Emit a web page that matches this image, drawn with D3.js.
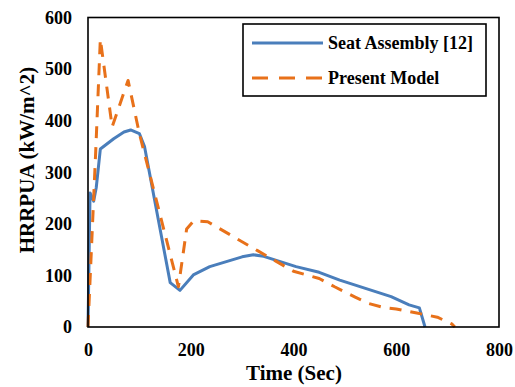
<!DOCTYPE html>
<html><head><meta charset="utf-8">
<script src="https://cdn.jsdelivr.net/npm/d3@7"></script>
<style>body{margin:0;background:#fff}svg{display:block}text{font-family:"Liberation Serif","Times New Roman",serif;font-weight:bold;fill:#000}</style>
</head><body>
<script>
const seriesNames = ["Seat Assembly [12]", "Present Model"];
const seatTime = [0, 4, 11, 16, 24, 50, 70, 83, 100, 110, 160, 179, 205, 237, 300, 322, 342, 405, 450, 490, 540, 590, 625, 645, 656];
const seatHRR  = [0, 260, 244, 270, 345, 365, 378, 382, 375, 350, 86, 71, 101, 117, 136, 140, 137, 117, 106, 91, 75, 59, 43, 37, 0];
const modelTime = [0, 15, 24, 47, 78, 100, 176, 192, 206, 233, 330, 400, 450, 480, 520, 545, 575, 600, 640, 680, 708, 714];
const modelHRR  = [0, 340, 558, 388, 478, 375, 78, 190, 206, 204, 148, 108, 94, 78, 58, 46, 38, 35, 27, 19, 6, 0];
const xTicks = [0, 200, 400, 600, 800];
const yTicks = [0, 100, 200, 300, 400, 500, 600];
const xTitle = "Time (Sec)";
const yTitle = "HRRPUA (kW/m^2)";

const W = 515, H = 387;
const m = {left: 88, right: 499, top: 17.5, bottom: 327};
const svg = d3.select("body").append("svg").attr("width", W).attr("height", H);
const x = d3.scaleLinear().domain([0, 800]).range([m.left, m.right]);
const y = d3.scaleLinear().domain([0, 600]).range([m.bottom, m.top]);

// axes (labels only)
const xAxis = d3.axisBottom(x).tickValues(xTicks).tickSize(0).tickPadding(16);
svg.append("g").attr("transform", `translate(0,${m.bottom})`).call(xAxis)
  .call(g => { g.select(".domain").remove(); g.selectAll("text").attr("font-size", 18).attr("font-family", "Liberation Serif").attr("font-weight", "bold").attr("fill", "#000"); });
const yAxis = d3.axisLeft(y).tickValues(yTicks).tickSize(0).tickPadding(16);
svg.append("g").attr("transform", `translate(${m.left},0)`).call(yAxis)
  .call(g => { g.select(".domain").remove(); g.selectAll("text").attr("font-size", 18).attr("font-family", "Liberation Serif").attr("font-weight", "bold").attr("fill", "#000"); });

const line = d3.line().x(d => x(d[0])).y(d => y(d[1]));
const clip = svg.append("defs").append("clipPath").attr("id", "c").append("rect")
  .attr("x", m.left).attr("y", m.top).attr("width", m.right - m.left).attr("height", m.bottom - m.top);

const seat = seatTime.map((t, i) => [t, seatHRR[i]]);
const model = modelTime.map((t, i) => [t, modelHRR[i]]);
const blue = "#4A7EBB", orange = "#E8711A";
svg.append("path").datum(seat).attr("d", line).attr("fill", "none").attr("stroke", blue).attr("stroke-width", 3).attr("stroke-linejoin", "round");
svg.append("path").datum(model).attr("d", line).attr("fill", "none").attr("stroke", orange).attr("stroke-width", 3).attr("stroke-dasharray", "12,9").attr("stroke-linejoin", "round");

// frame
svg.append("rect").attr("x", m.left).attr("y", m.top).attr("width", m.right - m.left).attr("height", m.bottom - m.top)
  .attr("fill", "none").attr("stroke", "#000").attr("stroke-width", 1.6);

// legend
const lg = svg.append("g");
lg.append("rect").attr("x", 243).attr("y", 24).attr("width", 243).attr("height", 72).attr("fill", "#fff").attr("stroke", "#000").attr("stroke-width", 1.6);
const ly = [43, 78];
const cols = [blue, orange];
seriesNames.forEach((n, i) => {
  lg.append("line").attr("x1", 252).attr("x2", 323).attr("y1", ly[i]).attr("y2", ly[i]).attr("stroke", cols[i]).attr("stroke-width", 3)
    .attr("stroke-dasharray", i === 1 ? "16,11" : null);
  lg.append("text").attr("x", 328).attr("y", ly[i]).attr("dy", "0.35em").attr("font-size", 18).text(n);
});

// titles
svg.append("text").attr("x", 294).attr("y", 380).attr("text-anchor", "middle").attr("font-size", 21).text(xTitle);
svg.append("text").attr("transform", "translate(34,160) rotate(-90)").attr("text-anchor", "middle").attr("font-size", 21).text(yTitle);
</script>
</body></html>
